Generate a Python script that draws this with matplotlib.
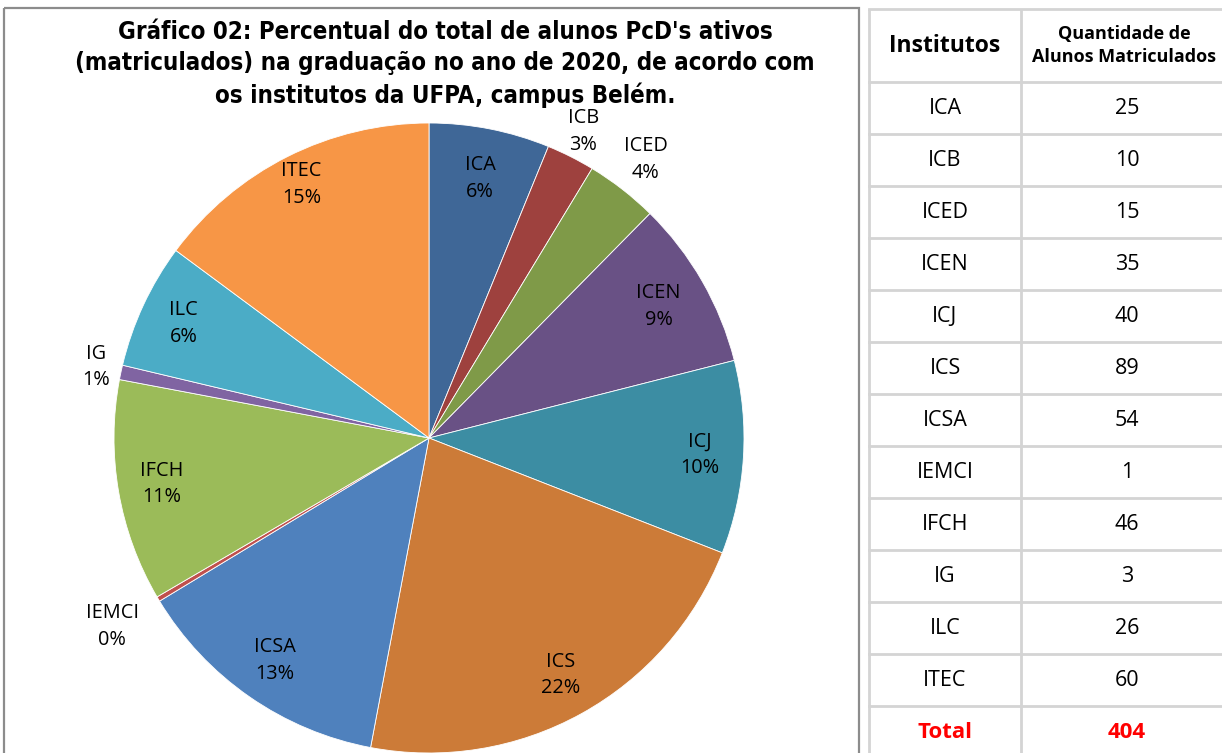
import numpy as np
import matplotlib.pyplot as plt
from matplotlib.patches import Rectangle

# dados
institutos = ['ICA', 'ICB', 'ICED', 'ICEN', 'ICJ', 'ICS', 'ICSA', 'IEMCI',
              'IFCH', 'IG', 'ILC', 'ITEC']
alunos = [25, 10, 15, 35, 40, 89, 54, 1, 46, 3, 26, 60]
percentuais = ['6%', '3%', '4%', '9%', '10%', '22%', '13%', '0%',
               '11%', '1%', '6%', '15%']
total = 404

cores = ['#3F6797', '#9E413E', '#7F9A48', '#695185', '#3C8DA3', '#CC7B38',
         '#4F81BD', '#C0504D', '#9BBB59', '#8064A2', '#4BACC6', '#F79646']
# distancia do rotulo ao centro (fracao do raio)
dist_rot = [0.84, 1.09, 1.12, 0.84, 0.86, 0.86, 0.86, 1.17,
            0.86, 1.08, 0.86, 0.9]

W, H = 1222, 753
fig = plt.figure(figsize=(W / 100, H / 100), dpi=100)
fam = ['Open Sans', 'DejaVu Sans']

# camada de fundo em pixels
bg = fig.add_axes([0, 0, 1, 1])
bg.set_xlim(0, W)
bg.set_ylim(H, 0)
bg.axis('off')
bg.add_patch(Rectangle((4, 8), 855, 760, fill=False, ec='#8c8c8c', lw=1.6))

bg.text(445, 64, "Gráfico 02: Percentual do total de alunos PcD's ativos\n"
        "(matriculados) na graduação no ano de 2020, de acordo com\n"
        "os institutos da UFPA, campus Belém.",
        ha='center', va='center', fontsize=17.3, fontweight='bold',
        linespacing=1.38, family=['DejaVu Sans'], fontstretch='condensed')

# pizza
cx, cy, r = 429, 438, 315
ax = fig.add_axes([(cx - r) / W, (H - cy - r) / H, 2 * r / W, 2 * r / H])
wedges, _ = ax.pie(alunos, colors=cores, startangle=90, counterclock=False,
                   wedgeprops=dict(linewidth=0.6, edgecolor='white'))
ax.set_xlim(-1, 1)
ax.set_ylim(-1, 1)
for w, nome, pct, d in zip(wedges, institutos, percentuais, dist_rot):
    ang = np.deg2rad((w.theta1 + w.theta2) / 2)
    ax.text(d * np.cos(ang), d * np.sin(ang), nome + '\n' + pct,
            ha='center', va='center', fontsize=14.3, linespacing=1.45,
            family=fam)

# tabela
x0, xm, x1 = 869, 1021, 1233
y_top, y_cab, h_lin = 9, 82, 52
n = len(institutos) + 1
y_fim = y_cab + n * h_lin
cinza = '#d4d4d4'
for x in (x0, xm, x1):
    bg.plot([x, x], [y_top, y_fim], color=cinza, lw=2, solid_capstyle='butt')
for i in range(n + 1):
    y = y_cab + i * h_lin
    bg.plot([x0, x1], [y, y], color=cinza, lw=2)
bg.plot([x0, x1], [y_top, y_top], color=cinza, lw=2)

c1, c2 = (x0 + xm) / 2, 1127
bg.text(c1, (y_top + y_cab) / 2, 'Institutos', ha='center', va='center',
        fontsize=16.5, fontweight='bold', family=fam)
bg.text(c2 - 3, (y_top + y_cab) / 2, 'Quantidade de\nAlunos Matriculados',
        ha='center', va='center', fontsize=13, fontweight='bold',
        family=fam, linespacing=1.4)
for i, (nome, v) in enumerate(zip(institutos, alunos)):
    yc = y_cab + (i + 0.5) * h_lin
    bg.text(c1, yc, nome, ha='center', va='center', fontsize=15.5, family=fam)
    bg.text(c2, yc, str(v), ha='center', va='center', fontsize=15.5, family=fam)
yc = y_cab + (n - 0.5) * h_lin
bg.text(c1, yc, 'Total', ha='center', va='center', fontsize=16,
        fontweight='bold', color='red', family=fam)
bg.text(c2, yc, str(total), ha='center', va='center', fontsize=16,
        fontweight='bold', color='red', family=fam)

fig.savefig('out.png', dpi=100)
